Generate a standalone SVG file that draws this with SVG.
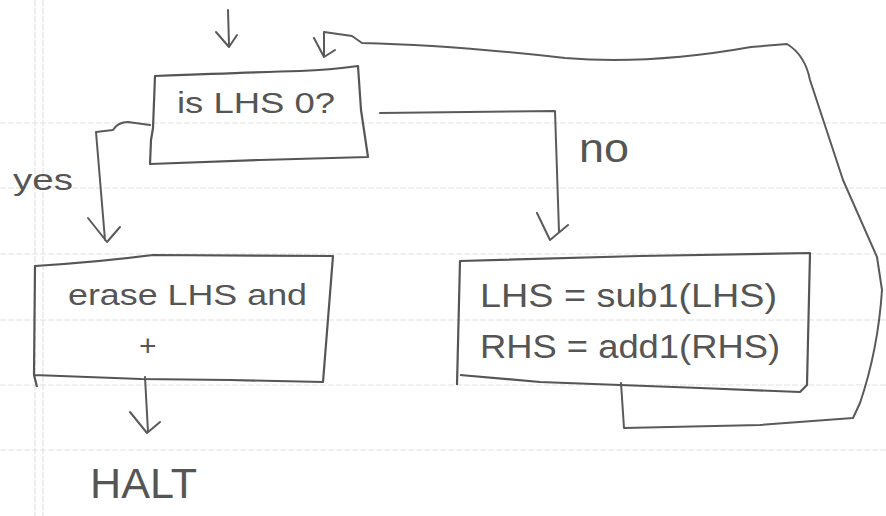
<svg xmlns="http://www.w3.org/2000/svg" width="886" height="516" viewBox="0 0 886 516">
<style>
.rule{stroke:#e2e2e2;stroke-width:1.2;stroke-dasharray:6 2;fill:none}
.box{fill:none;stroke:#555;stroke-width:2.2;stroke-linejoin:round}
.con{fill:none;stroke:#5a5a5a;stroke-width:2;stroke-linejoin:round;stroke-linecap:round}
.t{font-family:"Liberation Sans","DejaVu Sans",sans-serif;fill:#555}
</style>
<rect width="886" height="516" fill="#fff"/>
<g id="paper">
<path class="rule" d="M0,123H886M0,188H886M0,254H886M0,320H886M0,385H886M0,450H886M35,0V516M43,0V516"/>
</g>
<g id="connectors">
<path class="con" d="M228,10 L229,45 M216,32 L229,47 L237,35"/>
<path class="con" d="M150,125 L128,122 Q118,122 113,130 L96,132 L105,240 M88,218 L107,242 L120,227"/>
<path class="con" d="M380,113 L555,111 L559,232 M537,213 L550,240 L568,225"/>
<path class="con" d="M145,377 L148,432 M130,412 L147,433 L160,422"/>
<path class="con" d="M621,383 L624,428 L760,425 L853,418 L860,403 Q878,350 882,290 L877,257 L843,180 L810,80 Q805,55 787,44 L751,47 Q650,65 565,58 Q450,45 362,43 L352,36 L324,32 L324,57 M314,38 L324,57 L335,50"/>
</g>
<g id="n-test">
<path class="box" d="M155,76 Q260,72 300,71 Q330,70 358,66 L361,110 L368,157 L260,160 L150,164 L151,140 L153,128 Z"/>
<text class="t" x="177" y="113" font-size="29" textLength="158" lengthAdjust="spacingAndGlyphs">is LHS 0?</text>
</g>
<g id="n-yes-label">
<text class="t" x="13" y="190" font-size="30" textLength="60" lengthAdjust="spacingAndGlyphs">yes</text>
</g>
<g id="n-no-label">
<text class="t" x="579" y="162" font-size="40" textLength="50" lengthAdjust="spacingAndGlyphs">no</text>
</g>
<g id="n-erase">
<path class="box" d="M35,266 Q100,262 153,255 L333,256 L323,382 L230,380 L141,379 L34,375 Z M34,375 L37,387"/>
<text class="t" x="68" y="305" font-size="30" textLength="239" lengthAdjust="spacingAndGlyphs">erase LHS and</text>
<text class="t" x="139" y="356" font-size="30">+</text>
</g>
<g id="n-halt">
<text class="t" x="90" y="498" font-size="42" textLength="107" lengthAdjust="spacingAndGlyphs">HALT</text>
</g>
<g id="n-update">
<path class="box" d="M460,375 L540,382 L700,388 L800,392 L807,385 L810,253 L640,256 L460,261 L457,385"/>
<text class="t" x="480" y="307" font-size="34" textLength="297" lengthAdjust="spacingAndGlyphs">LHS = sub1(LHS)</text>
<text class="t" x="480" y="358" font-size="34" textLength="300" lengthAdjust="spacingAndGlyphs">RHS = add1(RHS)</text>
</g>
</svg>
